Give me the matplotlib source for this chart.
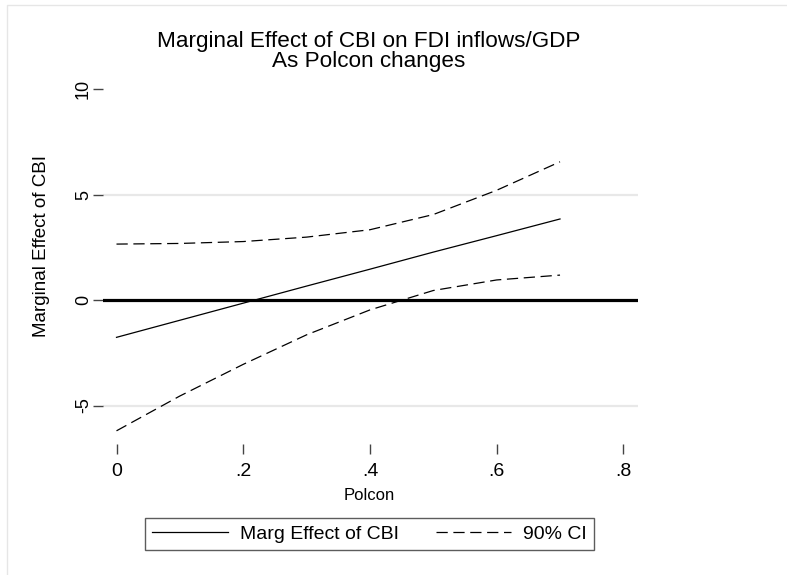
import matplotlib
matplotlib.use("Agg")
import matplotlib.pyplot as plt
from matplotlib.lines import Line2D

# ---- data ----
polcon = [0.0, 0.1, 0.2, 0.3, 0.4, 0.5, 0.6, 0.7]
marg_effect = [-1.77, -0.96, -0.15, 0.66, 1.46, 2.27, 3.05, 3.84]
ci_upper = [2.65, 2.68, 2.77, 2.98, 3.33, 4.05, 5.20, 6.55]
ci_lower = [-6.20, -4.55, -3.05, -1.65, -0.47, 0.45, 0.95, 1.18]
x_ticks = [0, 0.2, 0.4, 0.6, 0.8]
x_ticklabels = ["0", ".2", ".4", ".6", ".8"]
y_ticks = [-5, 0, 5, 10]
y_ticklabels = ["-5", "0", "5", "10"]
title_lines = ["Marginal Effect of CBI on FDI inflows/GDP", "As Polcon changes"]
legend_labels = ["Marg Effect of CBI", "90% CI"]

plt.rcParams['font.family'] = ['Liberation Sans', 'DejaVu Sans']

W, H = 787, 575
fig = plt.figure(figsize=(W / 100, H / 100), dpi=100)
fig.patch.set_facecolor("white")

# outer light border (top and left edges visible in the reference)
fig.add_artist(Line2D([7 / W, 7 / W, 1.0], [0.0, 1 - 5 / H, 1 - 5 / H],
                      transform=fig.transFigure, color="#e6e6e6", linewidth=1.0))

left, right, top, bottom = 103, 638, 89, 444
ax = fig.add_axes([left / W, 1 - bottom / H, (right - left) / W, (bottom - top) / H])
ax.set_facecolor("white")

xmin = -13.5 / 633.6
xmax = (638 - 116.5) / 633.6
ax.set_xlim(xmin, xmax)
ax.set_ylim(-(bottom - 300) / 21.1, 10.0)

for s in ax.spines.values():
    s.set_visible(False)

# gridlines at 5 and -5
for yv in [-5, 5]:
    ax.axhline(yv, color="#e8e8e8", linewidth=1.6, zorder=1)
# zero line
ax.axhline(0, color="black", linewidth=2.3, zorder=2)

ax.plot(polcon, marg_effect, color="black", linewidth=0.9, zorder=3)
ax.plot(polcon, ci_upper, color="black", linewidth=0.9, dashes=(9, 4.5), zorder=3)
ax.plot(polcon, ci_lower, color="black", linewidth=0.9, dashes=(9, 4.5), zorder=3)

ax.set_xticks(x_ticks)
ax.set_xticklabels(x_ticklabels, fontsize=14)
ax.set_yticks(y_ticks)
ax.set_yticklabels(y_ticklabels, fontsize=13, rotation=90, va="center")
ax.tick_params(axis="x", direction="out", length=7, width=1, color="#444444", pad=7)
ax.tick_params(axis="y", direction="out", length=7, width=1, color="#444444", pad=1)

ax.set_xlabel("Polcon", fontsize=12)
ax.xaxis.set_label_coords((369 - left) / (right - left), -(496 - bottom) / (bottom - top))
ax.set_ylabel("Marginal Effect of CBI", fontsize=13.5)
ax.yaxis.set_label_coords(-(left - 41) / (right - left), (bottom - 246) / (bottom - top))
ax.xaxis.label.set_va("center")
ax.yaxis.label.set_va("center")

# title (two lines)
fig.text(369 / W, 1 - 47 / H, title_lines[0], fontsize=16.2, ha="center", va="baseline")
fig.text(369 / W, 1 - 67 / H, title_lines[1], fontsize=16.2, ha="center", va="baseline")

handles = [Line2D([], [], color="black", linewidth=0.9),
           Line2D([], [], color="black", linewidth=0.9, dashes=(9, 4.5))]
leg = fig.legend(handles, legend_labels, loc="center", ncol=2,
                 bbox_to_anchor=(369.5 / W, 1 - 534 / H), fontsize=14,
                 frameon=True, fancybox=False, edgecolor="#333333",
                 handlelength=3.9, handletextpad=0.6, columnspacing=1.9,
                 borderpad=0.35, borderaxespad=0)
leg.get_frame().set_linewidth(1.0)

fig.savefig("out.png", dpi=100, facecolor="white")
